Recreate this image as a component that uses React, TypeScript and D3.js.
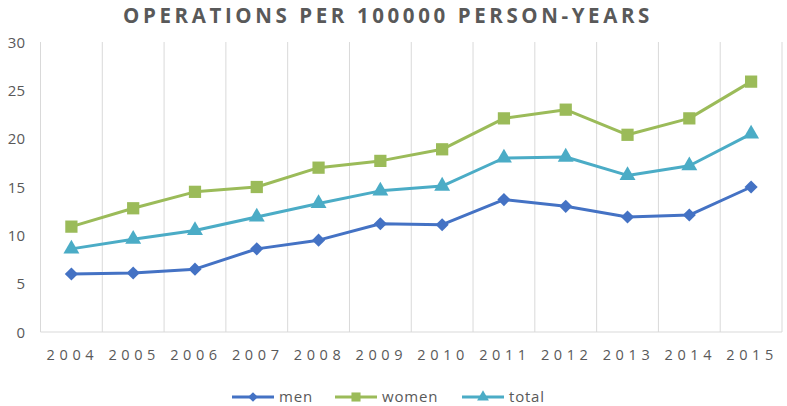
import * as d3 from "d3";
import { useEffect, useRef } from "react";

const years = ["2004", "2005", "2006", "2007", "2008", "2009", "2010", "2011", "2012", "2013", "2014", "2015"];
const men = [6.0, 6.1, 6.5, 8.6, 9.5, 11.2, 11.1, 13.7, 13.0, 11.9, 12.1, 15.0];
const women = [10.9, 12.8, 14.5, 15.0, 17.0, 17.7, 18.9, 22.1, 23.0, 20.4, 22.1, 25.9];
const total = [8.6, 9.6, 10.5, 11.9, 13.3, 14.6, 15.1, 18.0, 18.1, 16.2, 17.2, 20.5];
const yTicks = [0, 5, 10, 15, 20, 25, 30];

const series = [
  { name: "men", values: men, color: "#4472c4", symbol: d3.symbolDiamond2, size: 110 },
  { name: "women", values: women, color: "#9bbb59", symbol: d3.symbolSquare, size: 150 },
  { name: "total", values: total, color: "#4bacc6", symbol: d3.symbolTriangle, size: 110 },
];

const W = 787;
const H = 406;

const App = () => {
  const svgRef = useRef<SVGSVGElement>(null);

  useEffect(() => {
    const margin = { top: 42, right: 5, bottom: 74, left: 40.5 };
    const svg = d3.select(svgRef.current);
    svg.selectAll("*").remove();
    svg.attr("width", W).attr("height", H);

    const x = d3
      .scaleBand()
      .domain(years)
      .range([margin.left, W - margin.right]);

    const y = d3
      .scaleLinear()
      .domain([0, 30])
      .range([H - margin.bottom, margin.top]);

    // title
    svg
      .append("text")
      .attr("x", 388)
      .attr("y", 23)
      .attr("text-anchor", "middle")
      .attr("fill", "#595959")
      .attr("font-family", "Open Sans")
      .attr("font-weight", "700")
      .attr("font-size", "20.5px")
      .attr("letter-spacing", "3.6px")
      .text("OPERATIONS PER 100000 PERSON-YEARS");

    // vertical gridlines at band edges
    const edges = years.map((d) => x(d)).concat([x(years[years.length - 1]) + x.bandwidth()]);
    svg
      .selectAll(".grid")
      .data(edges)
      .enter()
      .append("line")
      .attr("class", "grid")
      .attr("x1", (d) => d)
      .attr("x2", (d) => d)
      .attr("y1", y(30))
      .attr("y2", y(0))
      .attr("stroke", "#d9d9d9")
      .attr("stroke-width", 1);

    // baseline
    svg
      .append("line")
      .attr("x1", margin.left)
      .attr("x2", W - margin.right)
      .attr("y1", y(0))
      .attr("y2", y(0))
      .attr("stroke", "#d9d9d9")
      .attr("stroke-width", 1);

    // y labels
    svg
      .selectAll(".yLabel")
      .data(yTicks)
      .enter()
      .append("text")
      .attr("class", "yLabel")
      .attr("x", 25)
      .attr("y", (d) => y(d) + 5.5)
      .attr("text-anchor", "end")
      .attr("fill", "#595959")
      .attr("font-family", "Open Sans")
      .attr("font-size", "15px")
      .text((d) => d);

    // x labels
    svg
      .selectAll(".xLabel")
      .data(years)
      .enter()
      .append("text")
      .attr("class", "xLabel")
      .attr("x", (d) => x(d) + x.bandwidth() / 2 + 1)
      .attr("y", 360)
      .attr("text-anchor", "middle")
      .attr("fill", "#595959")
      .attr("font-family", "Open Sans")
      .attr("font-size", "14.5px")
      .attr("letter-spacing", "4.6px")
      .text((d) => d);

    const line = d3
      .line<number>()
      .x((_, i) => x(years[i]) + x.bandwidth() / 2)
      .y((d) => y(d));

    series.forEach((s) => {
      svg
        .append("path")
        .attr("d", line(s.values))
        .attr("fill", "none")
        .attr("stroke", s.color)
        .attr("stroke-width", 3)
        .attr("stroke-linejoin", "round");

      const sym = d3.symbol().type(s.symbol).size(s.size);
      svg
        .selectAll(".m-" + s.name)
        .data(s.values)
        .enter()
        .append("path")
        .attr("class", "m-" + s.name)
        .attr("d", sym)
        .attr("transform", (d, i) => `translate(${x(years[i]) + x.bandwidth() / 2},${y(d)})`)
        .attr("fill", s.color);
    });

    // legend
    const legendX = [232, 335, 462];
    series.forEach((s, i) => {
      const g = svg.append("g").attr("transform", `translate(${legendX[i]},397)`);
      g.append("line")
        .attr("x1", 0)
        .attr("x2", 42)
        .attr("y1", 0)
        .attr("y2", 0)
        .attr("stroke", s.color)
        .attr("stroke-width", 3);
      g.append("path")
        .attr("d", d3.symbol().type(s.symbol).size(s.size * 0.55)())
        .attr("transform", "translate(21,0)")
        .attr("fill", s.color);
      g.append("text")
        .attr("x", 47)
        .attr("y", 5)
        .attr("fill", "#595959")
        .attr("font-family", "Open Sans")
        .attr("font-size", "15px")
        .attr("letter-spacing", "0.8px")
        .text(s.name);
    });
  }, []);

  return (
    <div style={{ position: "absolute", left: 0, top: 0, background: "#fff" }}>
      <svg ref={svgRef}></svg>
    </div>
  );
};

export default App;
